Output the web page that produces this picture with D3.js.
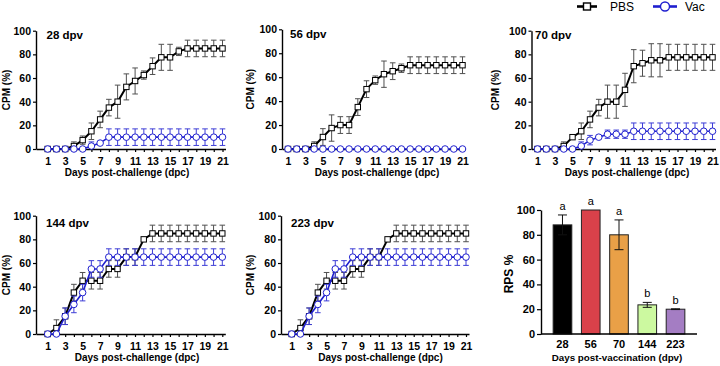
<!DOCTYPE html>
<html>
<head>
<meta charset="utf-8">
<script src="https://cdn.jsdelivr.net/npm/d3@7"></script>
<style>
    body { margin: 0; background: #fff; }
    svg { display: block; font-family: 'Liberation Sans', Arial, sans-serif; }
</style>
</head>
<body>
<svg id="chart" width="720" height="366"></svg>
<script>
// Days post-challenge and y ticks
const days = [1, 2, 3, 4, 5, 6, 7, 8, 9, 10, 11, 12, 13, 14, 15, 16, 17, 18, 19, 20, 21];
const cpmTicks = [0, 20, 40, 60, 80, 100];

// 28 dpv
const pbs28 = [0, 0, 0, 2.5, 7.5, 15, 25, 35, 40, 52.5, 57.5, 62.5, 70, 77.5, 77.5, 82.5, 85, 85, 85, 85, 85];
const pbs28Sd = [0, 0, 0, 3.5, 3.5, 7, 7, 7, 14, 11, 11, 3.5, 7, 11, 11, 3.5, 7, 7, 7, 7, 7];
const vac28 = [0, 0, 0, 0, 0, 2.5, 5, 10, 10, 10, 10, 10, 10, 10, 10, 10, 10, 10, 10, 10, 10];
const vac28Sd = [0, 0, 0, 0, 0, 3.5, 0, 7, 7, 7, 7, 7, 7, 7, 7, 7, 7, 7, 7, 7, 7];

// 56 dpv
const pbs56 = [0, 0, 0, 2.5, 10, 17.5, 20, 20, 35, 50, 57.5, 62.5, 65, 67.5, 70, 70, 70, 70, 70, 70, 70];
const pbs56Sd = [0, 0, 0, 3.5, 7, 11, 7, 7, 7, 7, 3.5, 11, 7, 3.5, 7, 7, 7, 7, 7, 7, 7];
const vac56 = [0, 0, 0, 0, 0, 0, 0, 0, 0, 0, 0, 0, 0, 0, 0, 0, 0, 0, 0, 0, 0];
const vac56Sd = [0, 0, 0, 0, 0, 0, 0, 0, 0, 0, 0, 0, 0, 0, 0, 0, 0, 0, 0, 0, 0];

// 70 dpv
const pbs70 = [0, 0, 0, 2.5, 10, 15, 25, 35, 40, 40, 50, 70, 72.5, 75, 75, 77.5, 77.5, 77.5, 77.5, 77.5, 77.5];
const pbs70Sd = [0, 0, 0, 3.5, 0, 7, 7, 7, 14, 14, 14, 14, 11, 14, 14, 11, 11, 11, 11, 11, 11];
const vac70 = [0, 0, 0, 0, 0, 2.5, 7.5, 10, 12.5, 12.5, 12.5, 15, 15, 15, 15, 15, 15, 15, 15, 15, 15];
const vac70Sd = [0, 0, 0, 0, 0, 3.5, 4, 0, 3.5, 3.5, 3.5, 7, 7, 7, 7, 7, 7, 7, 7, 7, 7];

// 144 dpv
const pbs144 = [0, 5, 15, 35, 45, 45, 45, 55, 55, 65, 65, 80, 85, 85, 85, 85, 85, 85, 85, 85, 85];
const pbs144Sd = [0, 7, 7, 7, 7, 7, 7, 7, 7, 7, 7, 0, 7, 7, 7, 7, 7, 7, 7, 7, 7];
const vac144 = [0, 0, 15, 25, 35, 55, 55, 65, 65, 65, 65, 65, 65, 65, 65, 65, 65, 65, 65, 65, 65];
const vac144Sd = [0, 0, 7, 7, 7, 7, 7, 7, 7, 7, 7, 7, 7, 7, 7, 7, 7, 7, 7, 7, 7];

// 223 dpv
const pbs223 = [0, 5, 15, 35, 45, 45, 45, 55, 55, 65, 65, 80, 85, 85, 85, 85, 85, 85, 85, 85, 85];
const pbs223Sd = [0, 7, 7, 7, 7, 7, 7, 7, 7, 7, 7, 0, 7, 7, 7, 7, 7, 7, 7, 7, 7];
const vac223 = [0, 0, 15, 25, 35, 55, 55, 65, 65, 65, 65, 65, 65, 65, 65, 65, 65, 65, 65, 65, 65];
const vac223Sd = [0, 0, 7, 7, 7, 7, 7, 7, 7, 7, 7, 7, 7, 7, 7, 7, 7, 7, 7, 7, 7];

// RPS bar chart
const rpsGroups = ['28', '56', '70', '144', '223'];
const rpsValues = [88, 100, 80, 23.5, 20];
const rpsErr = [8, 0, 12, 2, 0.3];
const rpsLetters = ['a', 'a', 'a', 'b', 'b'];
const rpsTicks = [0, 20, 40, 60, 80, 100];

const BLUE = '#1f1fcf';
const BLUE_ERR = '#3d3dd6';
const GREY_ERR = '#505050';
const barColors = ['#000000', '#d9414a', '#e9a047', '#ccf9a0', '#a47dc3'];

const svg = d3.select('#chart');

// Panel placement (pixels)
const panels = [
    { title: '28 dpv', axisX: 36, x1: 47.7, x21: 222.5, top: 30.7, bottom: 149, tx: 46.5, ty: 39.3, xt: 127, yt: 6 },
    { title: '56 dpv', axisX: 282, x1: 288, x21: 462.5, top: 29.3, bottom: 149, tx: 290, ty: 38, xt: 377, yt: 250 },
    { title: '70 dpv', axisX: 531.5, x1: 537.5, x21: 712.5, top: 30.7, bottom: 149, tx: 535, ty: 39.3, xt: 627, yt: 495 },
    { title: '144 dpv', axisX: 36, x1: 47.7, x21: 222.3, top: 215.7, bottom: 334, tx: 46, ty: 227, xt: 137, yt: 6 },
    { title: '223 dpv', axisX: 281, x1: 291.7, x21: 466, top: 215.7, bottom: 334, tx: 291, ty: 227, xt: 380.5, yt: 250 },
];
const lineSets = [
    [pbs28, pbs28Sd, vac28, vac28Sd],
    [pbs56, pbs56Sd, vac56, vac56Sd],
    [pbs70, pbs70Sd, vac70, vac70Sd],
    [pbs144, pbs144Sd, vac144, vac144Sd],
    [pbs223, pbs223Sd, vac223, vac223Sd],
];

panels.forEach((p, i) => drawLinePanel(p, lineSets[i]));
drawBarPanel();
drawLegend();

function styleAxis(g, size) {
    g.select('.domain').attr('stroke', '#000').attr('stroke-width', 1.4);
    g.selectAll('.tick line').attr('stroke', '#000').attr('stroke-width', 1.2);
    g.selectAll('.tick text')
        .attr('fill', '#000')
        .attr('font-family', "'Liberation Sans', Arial, sans-serif")
        .attr('font-weight', 'bold')
        .attr('font-size', size);
}

function drawLinePanel(p, [pbs, pbsSd, vac, vacSd]) {
    const xd = d3.scaleLinear().domain([1, 21]).range([p.x1, p.x21]);
    const x = d3
        .scaleLinear()
        .domain([xd.invert(p.axisX), xd.invert(p.x21 + 3)])
        .range([p.axisX, p.x21 + 3]);
    const y = d3.scaleLinear().domain([0, 100]).range([p.bottom, p.top]);

    const g = svg.append('g');

    g.append('g')
        .attr('transform', `translate(0,${p.bottom})`)
        .call(
            d3.axisBottom(x)
                .tickValues(days)
                .tickFormat(d => (d % 2 ? d : ''))
                .tickSize(3)
                .tickPadding(5.5)
                .tickSizeOuter(0)
        )
        .call(s => styleAxis(s, '10.5px'));

    g.append('g')
        .attr('transform', `translate(${p.axisX},0)`)
        .call(d3.axisLeft(y).tickValues(cpmTicks).tickSize(3).tickPadding(2).tickSizeOuter(0))
        .call(s => styleAxis(s, '10.5px'));

    g.append('text')
        .attr('x', p.tx)
        .attr('y', p.ty)
        .attr('font-weight', 'bold')
        .attr('font-size', '11.5px')
        .text(p.title);

    g.append('text')
        .attr('x', p.xt)
        .attr('y', p.bottom + 26.5)
        .attr('text-anchor', 'middle')
        .attr('font-weight', 'bold')
        .attr('font-size', '10px')
        .text('Days post-challenge (dpc)');

    g.append('text')
        .attr('transform', `translate(${p.yt + 4},${(p.top + p.bottom) / 2}) rotate(-90)`)
        .attr('text-anchor', 'middle')
        .attr('font-weight', 'bold')
        .attr('font-size', '10px')
        .text('CPM (%)');

    drawSeries(g, x, y, pbs, pbsSd, '#000', GREY_ERR, 'square');
    drawSeries(g, x, y, vac, vacSd, BLUE, BLUE_ERR, 'circle');
}

function drawSeries(g, x, y, mean, sd, color, errColor, shape) {
    const pts = days.map((d, i) => ({ d, m: mean[i], s: sd[i] }));
    const err = g.append('g').attr('stroke', errColor).attr('stroke-width', 1);
    pts.filter(p => p.s > 0).forEach(p => {
        const lo = y(Math.max(0, p.m - p.s));
        const hi = y(p.m + p.s);
        const cx = x(p.d);
        err.append('line').attr('x1', cx).attr('x2', cx).attr('y1', lo).attr('y2', hi);
        err.append('line').attr('x1', cx - 2.8).attr('x2', cx + 2.8).attr('y1', hi).attr('y2', hi);
        if (p.m - p.s > 0) {
            err.append('line').attr('x1', cx - 2.8).attr('x2', cx + 2.8).attr('y1', lo).attr('y2', lo);
        }
    });

    g.append('path')
        .datum(pts)
        .attr('fill', 'none')
        .attr('stroke', color)
        .attr('stroke-width', shape === 'square' ? 2 : 1.6)
        .attr('d', d3.line().x(p => x(p.d)).y(p => y(p.m)));

    if (shape === 'square') {
        g.selectAll(null)
            .data(pts)
            .enter()
            .append('rect')
            .attr('x', p => x(p.d) - 2.7)
            .attr('y', p => y(p.m) - 2.7)
            .attr('width', 5.4)
            .attr('height', 5.4)
            .attr('fill', '#fff')
            .attr('stroke', color)
            .attr('stroke-width', 1);
    } else {
        g.selectAll(null)
            .data(pts)
            .enter()
            .append('circle')
            .attr('cx', p => x(p.d))
            .attr('cy', p => y(p.m))
            .attr('r', 3.3)
            .attr('fill', '#fff')
            .attr('stroke', color)
            .attr('stroke-width', 1);
    }
}

function drawBarPanel() {
    const left = 541;
    const right = 697;
    const x = d3.scaleBand().domain(rpsGroups).range([left, right]).paddingInner(0.34).paddingOuter(0.43);
    const y = d3.scaleLinear().domain([0, 100]).range([334, 210]);
    const g = svg.append('g');

    g.selectAll('.bar')
        .data(rpsGroups)
        .enter()
        .append('rect')
        .attr('x', d => x(d))
        .attr('width', x.bandwidth())
        .attr('y', (d, i) => y(rpsValues[i]))
        .attr('height', (d, i) => y(0) - y(rpsValues[i]))
        .attr('fill', (d, i) => barColors[i])
        .attr('stroke', '#222')
        .attr('stroke-width', 1);

    const err = g.append('g').attr('stroke', '#111').attr('stroke-width', 1);
    rpsGroups.forEach((d, i) => {
        if (!rpsErr[i]) return;
        const cx = x(d) + x.bandwidth() / 2;
        const hi = y(rpsValues[i] + rpsErr[i]);
        const lo = y(rpsValues[i] - rpsErr[i]);
        err.append('line').attr('x1', cx).attr('x2', cx).attr('y1', lo).attr('y2', hi);
        err.append('line').attr('x1', cx - 4.5).attr('x2', cx + 4.5).attr('y1', hi).attr('y2', hi);
        err.append('line').attr('x1', cx - 4.5).attr('x2', cx + 4.5).attr('y1', lo).attr('y2', lo);
    });

    g.selectAll('.letter')
        .data(rpsGroups)
        .enter()
        .append('text')
        .attr('x', d => x(d) + x.bandwidth() / 2)
        .attr('y', (d, i) => y(rpsValues[i] + rpsErr[i]) - 5)
        .attr('text-anchor', 'middle')
        .attr('font-size', '11px')
        .text((d, i) => rpsLetters[i]);

    g.append('g')
        .attr('transform', 'translate(0,334)')
        .call(d3.axisBottom(x).tickSize(0).tickPadding(6))
        .call(s => styleAxis(s, '11px'))
        .call(s => s.select('.domain').attr('d', `M${left},0H${right}`));

    g.append('g')
        .attr('transform', `translate(${left},0)`)
        .call(d3.axisLeft(y).tickValues(rpsTicks).tickSize(4).tickPadding(2).tickSizeOuter(0))
        .call(s => styleAxis(s, '11px'));

    g.append('text')
        .attr('x', 617)
        .attr('y', 360.5)
        .attr('text-anchor', 'middle')
        .attr('font-weight', 'bold')
        .attr('font-size', '9.8px')
        .text('Days post-vaccination (dpv)');

    g.append('text')
        .attr('transform', 'translate(512.5,274) rotate(-90)')
        .attr('text-anchor', 'middle')
        .attr('font-weight', 'bold')
        .attr('font-size', '12px')
        .text('RPS %');
}

function drawLegend() {
    const g = svg.append('g');
    const ly = 6.5;
    g.append('line').attr('x1', 577).attr('x2', 597).attr('y1', ly).attr('y2', ly)
        .attr('stroke', '#000').attr('stroke-width', 2.6);
    g.append('rect').attr('x', 583.5).attr('y', ly - 3.5).attr('width', 7).attr('height', 7)
        .attr('fill', '#fff').attr('stroke', '#000').attr('stroke-width', 1.4);
    g.append('text').attr('x', 610).attr('y', ly).attr('dy', '0.36em')
        .attr('font-size', '12px').text('PBS');

    g.append('line').attr('x1', 653).attr('x2', 677).attr('y1', ly).attr('y2', ly)
        .attr('stroke', BLUE).attr('stroke-width', 2.6);
    g.append('circle').attr('cx', 665).attr('cy', ly).attr('r', 4.5)
        .attr('fill', '#fff').attr('stroke', BLUE).attr('stroke-width', 1.4);
    g.append('text').attr('x', 685).attr('y', ly).attr('dy', '0.36em')
        .attr('font-size', '12px').text('Vac');
}
</script>
</body>
</html>
